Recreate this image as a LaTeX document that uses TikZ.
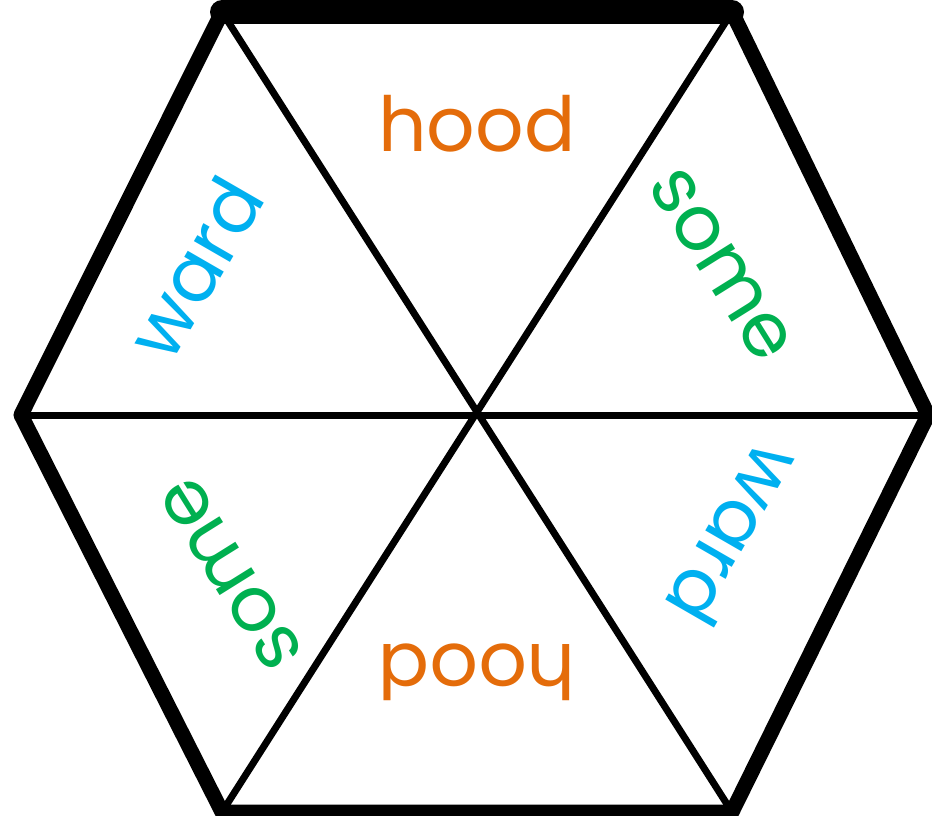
\documentclass[tikz,border=0pt]{standalone}
\usepackage{fontspec}
\setmainfont{Poppins}
\definecolor{wordorange}{HTML}{E46C0A}
\definecolor{wordgreen}{HTML}{00B050}
\definecolor{wordcyan}{HTML}{00B0F0}
\begin{document}
\begin{tikzpicture}[x=1pt,y=-1pt,
  outer/.style={line width=15pt,line join=round,line cap=round},
  topedge/.style={line width=24pt,line cap=round},
  inner/.style={line width=7pt},
  word/.style={font=\fontsize{76}{80}\selectfont,inner sep=0pt}]
\useasboundingbox (0,0) rectangle (932,816);
\begin{scope}
\clip (0,0) rectangle (932,816);
\coordinate (TL) at (222,12);
\coordinate (TR) at (732,12);
\coordinate (R) at (928,415);
\coordinate (BR) at (732,812);
\coordinate (BL) at (222,812);
\coordinate (L) at (21,415);
\coordinate (C) at (477,415);
\draw[inner] (TL) -- (BR);
\draw[inner] (TR) -- (BL);
\draw[inner] (L) -- (R);
\draw[outer] (TL) -- (L) -- (BL) -- (BR) -- (R) -- (TR);
\draw[topedge] (TL) -- (TR);
\end{scope}
\node[word,text=wordorange] (h1) at (477,124) {hood};
\node[word,text=wordorange,rotate=180] (h2) at (477,672) {hood};
\node[word,text=wordcyan,rotate=60] (w1) at (195,268) {ward};
\node[word,text=wordcyan,rotate=240] (w2) at (735,535) {ward};
\node[word,text=wordgreen,rotate=-58] (s1) at (721,265) {some};
\node[word,text=wordgreen,rotate=122] (s2) at (231,574) {some};
\end{tikzpicture}
\end{document}
